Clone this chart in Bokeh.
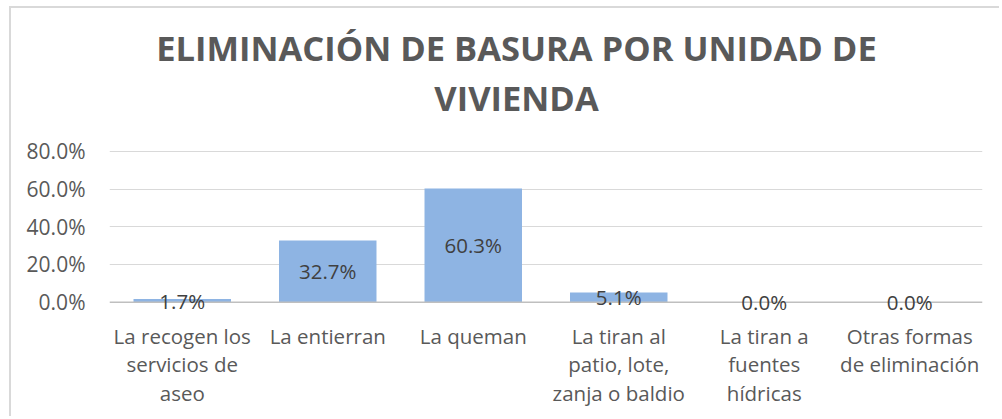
from bokeh.plotting import figure
from bokeh.models import FactorRange, ColumnDataSource, NumeralTickFormatter, Range1d, LabelSet, Span
from bokeh.core.properties import value
from bokeh.embed import file_html
from bokeh.resources import INLINE

categories = [
    "La recogen los\nservicios de\naseo",
    "La entierran",
    "La queman",
    "La tiran al\npatio, lote,\nzanja o baldio",
    "La tiran a\nfuentes\nhídricas",
    "Otras formas\nde eliminación",
]
values = [0.017, 0.327, 0.603, 0.051, 0.0, 0.0]
value_labels = ["1.7%", "32.7%", "60.3%", "5.1%", "0.0%", "0.0%"]
y_ticks = [0.0, 0.2, 0.4, 0.6, 0.8]
title_lines = ["ELIMINACIÓN DE BASURA POR UNIDAD DE", "VIVIENDA"]

FONT = "Open Sans"

# frame spans 303 px; 0.8 of value = 150.8 px
Y_START, Y_END = -0.06, 1.5474

p = figure(
    width=990, height=410,
    x_range=FactorRange(*categories, range_padding=0),
    y_range=Range1d(Y_START, Y_END),
    output_backend="svg", toolbar_location=None,
    min_border_left=98, min_border_right=19, min_border_bottom=105, min_border_top=2,
)
p.title = None
p.outline_line_color = None
p.background_fill_color = "white"
p.border_fill_color = "white"
p.styles = {"margin-left": "9px", "margin-top": "6px",
            "border-left": "2px solid #d9d9d9", "border-top": "2px solid #d9d9d9"}

src = ColumnDataSource(dict(cat=categories, val=values, half=[v / 2 for v in values], lab=value_labels))
p.vbar(x="cat", top="val", bottom=0, width=0.67, source=src, fill_color="#8EB4E3", line_color=None)
p.add_layout(Span(location=0, dimension="width", line_color="#bfbfbf", line_width=1.5))
labels = LabelSet(x="cat", y="half", text="lab", source=src, text_align="center", text_baseline="middle",
                  text_font=value(FONT), text_font_size=value("20.5px"), text_color="#404040", level="overlay")
p.add_layout(labels)

# chart title (two centred lines above the plotting area)
n_cat = len(categories)
title_src = ColumnDataSource(dict(x=[n_cat * 0.4662] * 2, y=[1.349, 1.0875], t=title_lines))
p.text(x="x", y="y", text="t", source=title_src, text_align="center", text_baseline="middle",
       text_font=value(FONT), text_font_size=value("34.5px"), text_font_style="bold", text_color="#595959")

# axes
p.yaxis.ticker = y_ticks
p.yaxis.formatter = NumeralTickFormatter(format="0.0%")
p.yaxis.axis_line_color = None
p.yaxis.major_tick_line_color = None
p.yaxis.minor_tick_line_color = None
p.yaxis.major_label_standoff = 18
p.yaxis.major_label_text_font = FONT
p.yaxis.major_label_text_font_size = "21px"
p.yaxis.major_label_text_color = "#595959"

p.xaxis.axis_line_color = None
p.xaxis.major_tick_line_color = None
p.xaxis.minor_tick_line_color = None
p.xaxis.major_label_standoff = 2
p.xaxis.major_label_text_font = FONT
p.xaxis.major_label_text_font_size = "20.5px"
p.xaxis.major_label_text_color = "#595959"
p.xaxis.major_label_text_line_height = 1.03

p.xgrid.grid_line_color = None
p.ygrid.ticker = [0.2, 0.4, 0.6, 0.8]
p.ygrid.grid_line_color = "#d9d9d9"

open("out.html", "w").write(file_html(p, INLINE))
